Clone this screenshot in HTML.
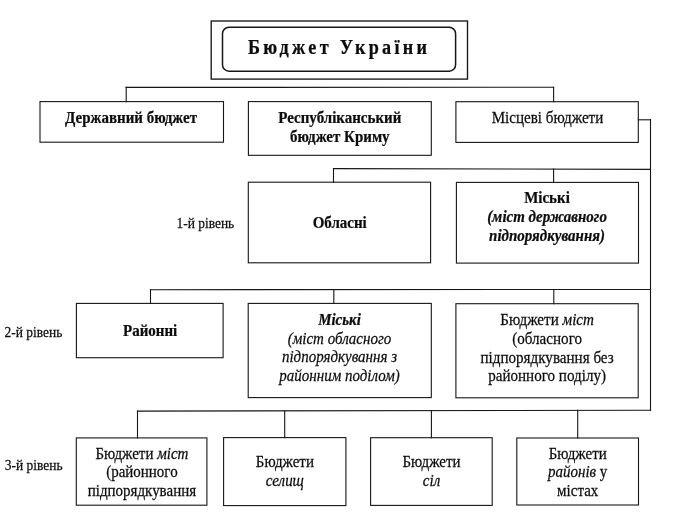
<!DOCTYPE html>
<html lang="uk">
<head>
<meta charset="utf-8">
<title>Бюджет України</title>
<style>
html,body{margin:0;padding:0;background:#fff;}
body{width:683px;height:518px;overflow:hidden;}
svg{display:block;}
.tx{filter:blur(0.3px);}
svg text{font-family:"Liberation Serif","DejaVu Serif",serif;fill:#0c0c0c;stroke:#0c0c0c;stroke-width:0.22px;}
</style>
</head>
<body>
<svg width="683" height="518" viewBox="0 0 683 518">
<rect x="0" y="0" width="683" height="518" fill="#ffffff"/>
<g fill="none" stroke="#161616" stroke-width="1.1" stroke-linecap="square">
<rect x="211.2" y="21.0" width="256.3" height="58.1" stroke-width="1.35"/>
<rect x="40.0" y="101.6" width="183.5" height="40.6"/>
<rect x="248.4" y="101.6" width="182.9" height="53.7"/>
<rect x="455.9" y="101.7" width="182.4" height="40.7"/>
<rect x="248.3" y="182.2" width="182.3" height="80.6"/>
<rect x="456.4" y="182.4" width="182.1" height="80.7"/>
<rect x="76.4" y="303.4" width="146.7" height="54.3"/>
<rect x="248.2" y="303.4" width="183.1" height="94.2"/>
<rect x="455.9" y="303.7" width="182.3" height="94.1"/>
<rect x="76.3" y="437.9" width="130.6" height="67.3"/>
<rect x="223.6" y="437.6" width="122.3" height="68.0"/>
<rect x="370.6" y="437.7" width="121.6" height="67.7"/>
<rect x="516.8" y="438.0" width="121.7" height="67.0"/>
<line x1="126.2" y1="87.4" x2="553.6" y2="87.2"/>
<line x1="126.2" y1="87.4" x2="126.2" y2="101.6"/>
<line x1="553.6" y1="87.2" x2="553.6" y2="101.7"/>
<line x1="638.3" y1="119.8" x2="650.5" y2="119.8"/>
<line x1="650.5" y1="119.8" x2="650.5" y2="410.3"/>
<line x1="333.5" y1="168.6" x2="650.5" y2="169.4"/>
<line x1="333.5" y1="168.6" x2="333.5" y2="182.2"/>
<line x1="553.6" y1="169.1" x2="553.6" y2="182.4"/>
<line x1="150.5" y1="289.7" x2="650.5" y2="289.5"/>
<line x1="150.5" y1="289.7" x2="150.5" y2="303.4"/>
<line x1="333.8" y1="289.6" x2="333.8" y2="303.4"/>
<line x1="553.8" y1="289.55" x2="553.8" y2="303.7"/>
<line x1="137.5" y1="411.1" x2="650.5" y2="410.3"/>
<line x1="137.5" y1="411.1" x2="137.5" y2="437.9"/>
<line x1="284.7" y1="410.9" x2="284.7" y2="437.6"/>
<line x1="431.4" y1="410.6" x2="431.4" y2="437.7"/>
<line x1="577.7" y1="410.4" x2="577.7" y2="438.0"/>
</g>
<rect x="222.5" y="27.2" width="233.1" height="44.0" rx="6.5" ry="6.5" fill="none" stroke="#161616" stroke-width="1.5"/>
<g class="tx">
<text transform="translate(339.2,54.3) scale(1,1.11)" font-size="18.2" font-weight="bold" font-style="normal" text-anchor="middle" stroke-width="0.36" letter-spacing="3.3">Бюджет України</text>
<text transform="translate(131.05,122.8) scale(1,1.12)" font-size="15.0" font-weight="bold" font-style="normal" text-anchor="middle" stroke-width="0.36">Державний бюджет</text>
<text transform="translate(339.8,123.0) scale(1,1.12)" font-size="15.0" font-weight="bold" font-style="normal" text-anchor="middle" stroke-width="0.36">Республіканський</text>
<text transform="translate(339.8,142.4) scale(1,1.12)" font-size="15.0" font-weight="bold" font-style="normal" text-anchor="middle" stroke-width="0.36">бюджет Криму</text>
<text transform="translate(547.45,122.5) scale(1,1.16)" font-size="15.1" font-weight="normal" font-style="normal" text-anchor="middle">Місцеві бюджети</text>
<text transform="translate(339.7,228.2) scale(1,1.12)" font-size="15.0" font-weight="bold" font-style="normal" text-anchor="middle" stroke-width="0.36">Обласні</text>
<text transform="translate(547.0,203.45) scale(1,1.12)" font-size="15.0" font-weight="bold" font-style="normal" text-anchor="middle" stroke-width="0.36">Міські</text>
<text transform="translate(547.0,222.3) scale(1,1.12)" font-size="15.0" font-weight="bold" font-style="italic" text-anchor="middle" stroke-width="0.36">(міст державного</text>
<text transform="translate(547.0,240.6) scale(1,1.12)" font-size="15.0" font-weight="bold" font-style="italic" text-anchor="middle" stroke-width="0.36">підпорядкування)</text>
<text transform="translate(150.1,335.8) scale(1,1.12)" font-size="15.0" font-weight="bold" font-style="normal" text-anchor="middle" stroke-width="0.36">Районні</text>
<text transform="translate(339.5,324.8) scale(1,1.12)" font-size="15.0" font-weight="bold" font-style="italic" text-anchor="middle" stroke-width="0.36">Міські</text>
<text transform="translate(339.5,343.6) scale(1,1.16)" font-size="15.0" font-weight="normal" font-style="italic" text-anchor="middle">(міст обласного</text>
<text transform="translate(339.5,362.3) scale(1,1.16)" font-size="15.0" font-weight="normal" font-style="italic" text-anchor="middle">підпорядкування з</text>
<text transform="translate(339.5,381.4) scale(1,1.16)" font-size="15.0" font-weight="normal" font-style="italic" text-anchor="middle">районним поділом)</text>
<text transform="translate(547.1,324.5) scale(1,1.16)" font-size="15.1" font-weight="normal" font-style="normal" text-anchor="middle">Бюджети <tspan font-style="italic">міст</tspan></text>
<text transform="translate(547.1,343.8) scale(1,1.16)" font-size="15.1" font-weight="normal" font-style="normal" text-anchor="middle">(обласного</text>
<text transform="translate(547.1,362.6) scale(1,1.16)" font-size="15.1" font-weight="normal" font-style="normal" text-anchor="middle">підпорядкування без</text>
<text transform="translate(547.1,381.3) scale(1,1.16)" font-size="15.1" font-weight="normal" font-style="normal" text-anchor="middle">районного поділу)</text>
<text transform="translate(141.9,459.0) scale(1,1.16)" font-size="15.0" font-weight="normal" font-style="normal" text-anchor="middle">Бюджети <tspan font-style="italic">міст</tspan></text>
<text transform="translate(141.9,477.2) scale(1,1.16)" font-size="15.0" font-weight="normal" font-style="normal" text-anchor="middle">(районного</text>
<text transform="translate(141.9,496.2) scale(1,1.16)" font-size="15.0" font-weight="normal" font-style="normal" text-anchor="middle">підпорядкування</text>
<text transform="translate(284.9,467.2) scale(1,1.16)" font-size="15.0" font-weight="normal" font-style="normal" text-anchor="middle">Бюджети</text>
<text transform="translate(284.9,485.6) scale(1,1.16)" font-size="15.0" font-weight="normal" font-style="italic" text-anchor="middle">селищ</text>
<text transform="translate(431.5,467.0) scale(1,1.16)" font-size="15.0" font-weight="normal" font-style="normal" text-anchor="middle">Бюджети</text>
<text transform="translate(431.5,486.4) scale(1,1.16)" font-size="15.0" font-weight="normal" font-style="italic" text-anchor="middle">сіл</text>
<text transform="translate(577.7,458.6) scale(1,1.16)" font-size="15.0" font-weight="normal" font-style="normal" text-anchor="middle">Бюджети</text>
<text transform="translate(577.7,476.9) scale(1,1.16)" font-size="15.0" font-weight="normal" font-style="normal" text-anchor="middle"><tspan font-style="italic">районів</tspan> у</text>
<text transform="translate(577.7,496.0) scale(1,1.16)" font-size="15.0" font-weight="normal" font-style="normal" text-anchor="middle">містах</text>
<text transform="translate(176.5,227.8) scale(1,1.16)" font-size="13.45" font-weight="normal" font-style="normal" text-anchor="start">1-й рівень</text>
<text transform="translate(4.6,337.0) scale(1,1.16)" font-size="13.45" font-weight="normal" font-style="normal" text-anchor="start">2-й рівень</text>
<text transform="translate(4.8,470.4) scale(1,1.16)" font-size="13.45" font-weight="normal" font-style="normal" text-anchor="start">3-й рівень</text>
</g>
</svg>
</body>
</html>
